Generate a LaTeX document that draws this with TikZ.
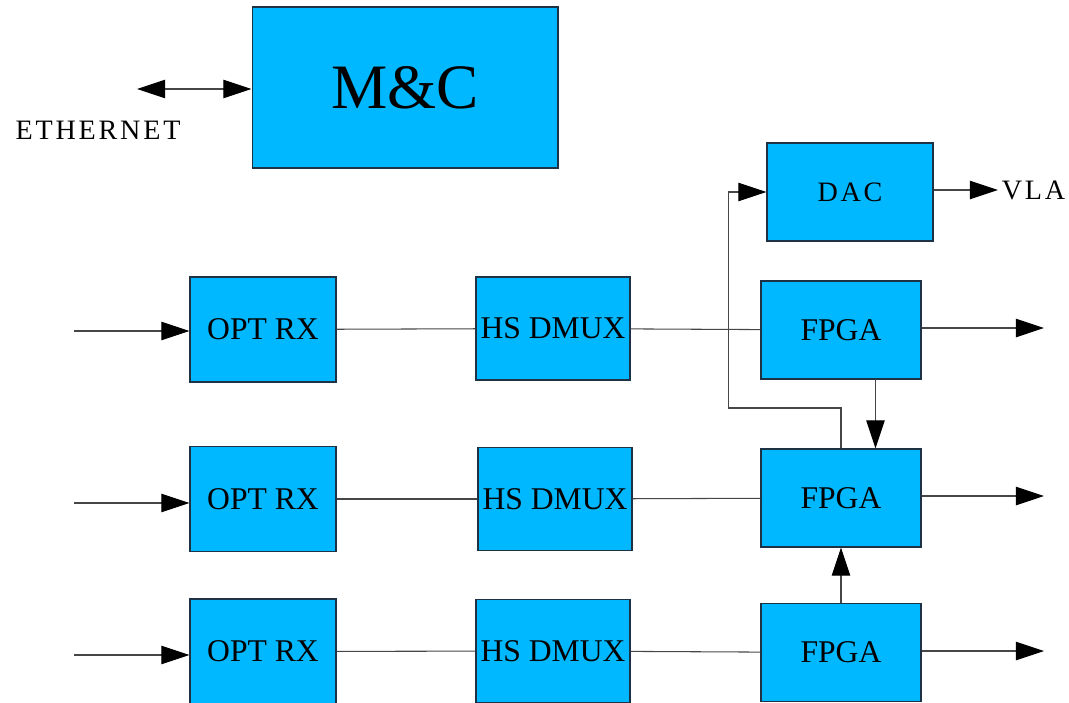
\documentclass[tikz,border=0pt]{standalone}
\usepackage{fontspec}
\setmainfont{Liberation Serif}
\newfontfamily\widefont[LetterSpace=10]{Liberation Serif}
\usetikzlibrary{arrows.meta}
\definecolor{boxblue}{RGB}{0,184,255}
\definecolor{boxedge}{RGB}{30,50,70}
\definecolor{wire}{RGB}{70,70,70}
\begin{document}
\begin{tikzpicture}[x=0.02cm,y=-0.02cm,
    unit/.style={draw=boxedge,fill=boxblue,line width=0.6pt,inner sep=0pt,
      font=\fontsize{18}{21}\selectfont},
    rxbox/.style={unit,minimum width=2.92cm,minimum height=2.1cm},
    dmuxbox/.style={unit,minimum width=3.08cm,minimum height=2.06cm},
    fpgabox/.style={unit,minimum width=3.2cm,minimum height=1.96cm},
    wide/.style={font=\widefont\fontsize{16}{19}\selectfont},
    link/.style={draw=wire,line width=0.6pt},
    head/.tip={Triangle[length=16pt,width=10.5pt,color=black]},
    flow/.style={link,-head}]
  \useasboundingbox (0,0) rectangle (1069,703);
  \node[unit,minimum width=6.12cm,minimum height=3.22cm,
    font=\fontsize{36}{40}\selectfont] (mc) at (405,87.5) {M\&C};
  \node[unit,minimum width=3.32cm,minimum height=1.96cm,font=\widefont\fontsize{16}{19}\selectfont]
    (dac) at (850,192) {DAC};
  \node[rxbox] (rx1) at (263,329.5) {OPT RX};
  \node[rxbox] (rx2) at (263,499) {OPT RX};
  \node[rxbox] (rx3) at (263,651.5) {OPT RX};
  \node[dmuxbox] (dmux1) at (553,328.5) {HS DMUX};
  \node[dmuxbox] (dmux2) at (555,499) {HS DMUX};
  \node[dmuxbox] (dmux3) at (553,651) {HS DMUX};
  \node[fpgabox] (fpga1) at (841,330) {FPGA};
  \node[fpgabox] (fpga2) at (841,498) {FPGA};
  \node[fpgabox] (fpga3) at (841,652.5) {FPGA};
  \node[wide] (eth) at (98,130) {ETHERNET};
  \node[wide,anchor=west,inner sep=2pt] (vla) at (998,190) {VLA};
  \coordinate (ethport) at (137,89);
  \coordinate (in1) at (74,331);
  \coordinate (in2) at (74,503);
  \coordinate (in3) at (74,655);
  \coordinate (out1) at (1044,328);
  \coordinate (out2) at (1044,496);
  \coordinate (out3) at (1044,651);
  \coordinate (fb) at (728.5,408);
  \coordinate (tap) at (875.5,379);
  \draw[link,head-head]
    (ethport)
    --
    (ethport -| mc.west);
  \draw[flow]
    (in1)
    --
    (in1 -| rx1.west);
  \draw[flow]
    (in2)
    --
    (in2 -| rx2.west);
  \draw[flow]
    (in3)
    --
    (in3 -| rx3.west);
  \draw[link]
    (rx1)
    --
    (dmux1);
  \draw[link]
    (rx2)
    --
    (dmux2);
  \draw[link]
    (rx3)
    --
    (dmux3);
  \draw[link]
    (dmux1)
    --
    (fpga1);
  \draw[link]
    (dmux2)
    --
    (fpga2);
  \draw[link]
    (dmux3)
    --
    (fpga3);
  \draw[flow]
    (fpga1.east |- out1)
    --
    (out1);
  \draw[flow]
    (fpga2.east |- out2)
    --
    (out2);
  \draw[flow]
    (fpga3.east |- out3)
    --
    (out3);
  \draw[flow]
    (dac.east |- vla.west)
    --
    (vla.west);
  \draw[flow]
    (fpga2.north)
    |-
    (fb)
    |-
    (dac.west);
  \draw[flow]
    (tap)
    --
    (tap |- fpga2.north);
  \draw[flow]
    (fpga3.north)
    --
    (fpga2.south);
\end{tikzpicture}
\end{document}
